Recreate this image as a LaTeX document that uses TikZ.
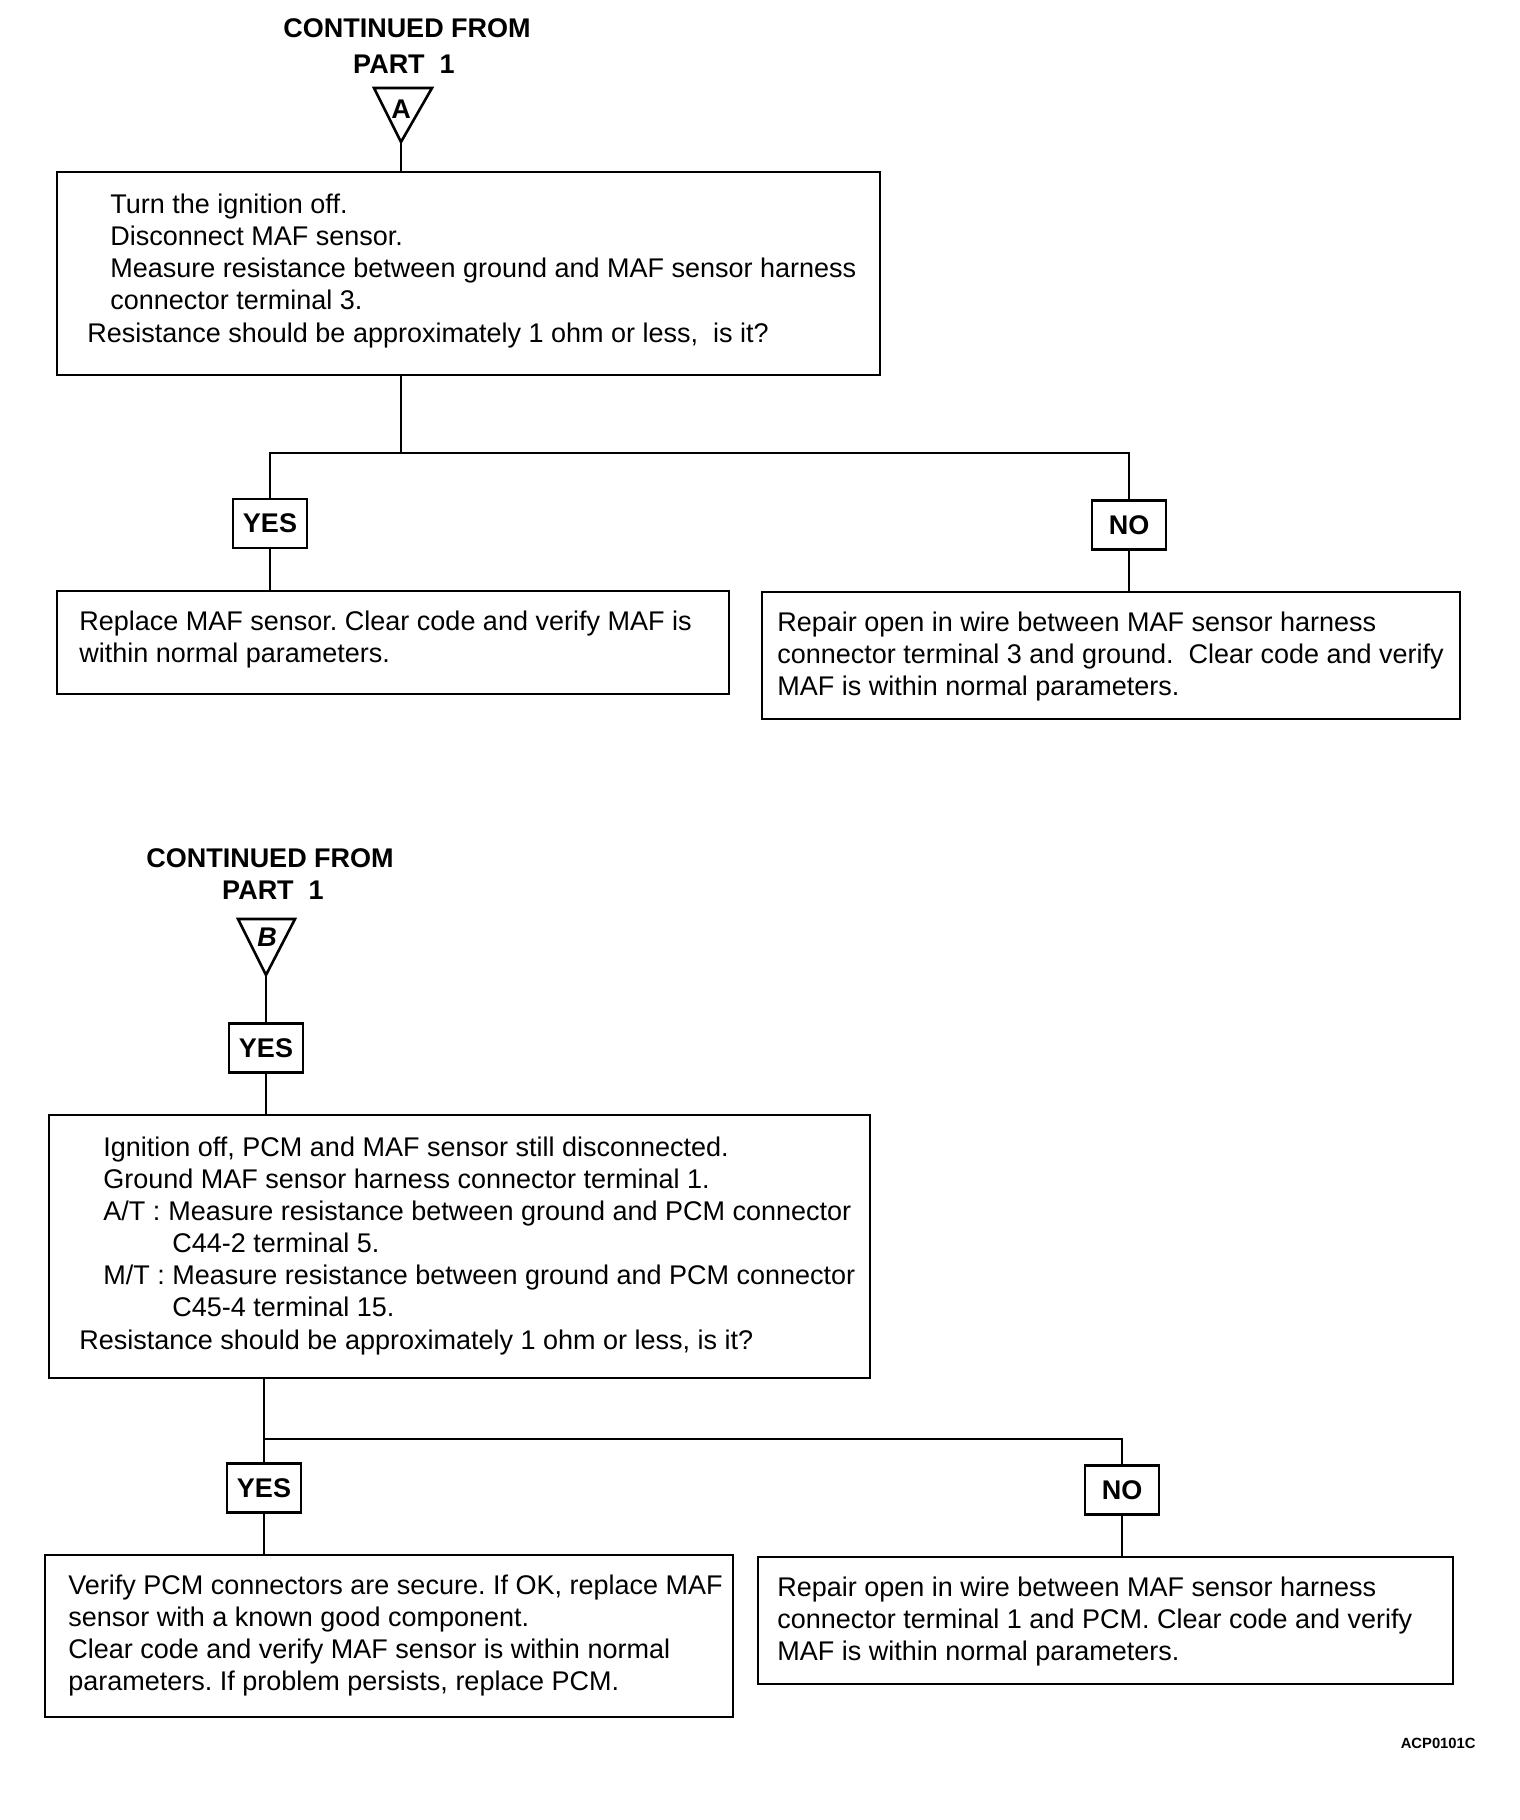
\documentclass[tikz,border=0pt]{standalone}
\usepackage{fontspec}
\setmainfont{Liberation Sans}
\frenchspacing
\begin{document}
\begin{tikzpicture}[x=0.5pt,y=-0.5pt,
  box/.style={draw, line width=1.3pt, rectangle, inner sep=0pt},
  lbl/.style={draw, line width=1.3pt, rectangle, inner sep=0pt, minimum width=37pt, minimum height=24.5pt, font=\bfseries\fontsize{13.5}{16}\selectfont},
  txt/.style={anchor=base west, inner sep=0pt, font=\fontsize{13.5}{16}\selectfont},
  ttl/.style={anchor=base, inner sep=0pt, font=\bfseries\fontsize{13.5}{16}\selectfont},
  conn/.style={line width=1pt},
  tri/.style={line width=1.3pt, line join=miter}]
\fill[white] (0,0) rectangle (1520,1820);
\path[use as bounding box] (0,0) rectangle (1520,1820);

% ---------- Part A ----------
\node[ttl] (tA1) at (407,38) {CONTINUED FROM};
\node[ttl] (tA2) at (404,73) {PART\ \ 1};
\coordinate (triA) at (401,142);
\draw[tri] (374,88) -- (432,88) -- (triA) -- cycle;
\node[inner sep=0pt, font=\bfseries\fontsize{13.5}{16}\selectfont] (lA) at (401,109) {A};

\node[box, minimum width=411.5pt, minimum height=101.5pt] (boxA) at (468.5,273.5) {};
\node[txt] (a1) at (110,213) {Turn the ignition off.};
\node[txt] (a2) at (110,245.5) {Disconnect MAF sensor.};
\node[txt] (a3) at (110,277.5) {Measure resistance between ground and MAF sensor harness};
\node[txt] (a4) at (110,309.5) {connector terminal 3.};
\node[txt] (a5) at (87,342) {Resistance should be approximately 1 ohm or less,\ \ is it?};

\draw[conn] (triA) -- (triA |- boxA.north);

\node[lbl] (yes1) at (270,523.5) {YES};
\node[lbl] (no1) at (1129,525) {NO};
\coordinate (j1) at (401,453);
\draw[conn] (j1 |- boxA.south) -- (j1);
\draw[conn] (yes1.north) |- (j1) -| (no1.north);

\node[box, minimum width=336pt, minimum height=51.5pt] (y1) at (393,642.5) {};
\node[box, minimum width=349pt, minimum height=63.5pt] (n1) at (1111,655.5) {};
\draw[conn] (yes1.south) -- (yes1.south |- y1.north);
\draw[conn] (no1.south) -- (no1.south |- n1.north);

\node[txt] (y1a) at (79,630) {Replace MAF sensor. Clear code and verify MAF is};
\node[txt] (y1b) at (79,662) {within normal parameters.};
\node[txt] (n1a) at (777,631) {Repair open in wire between MAF sensor harness};
\node[txt] (n1b) at (777,663) {connector terminal 3 and ground.\ \ Clear code and verify};
\node[txt] (n1c) at (777,695) {MAF is within normal parameters.};

% ---------- Part B ----------
\node[ttl] (tB1) at (270,867) {CONTINUED FROM};
\node[ttl] (tB2) at (273,899) {PART\ \ 1};
\coordinate (triB) at (266,975);
\draw[tri] (238,919) -- (295,919) -- (triB) -- cycle;
\node[inner sep=0pt, font=\bfseries\itshape\fontsize{13.5}{16}\selectfont] (lB) at (267,937) {B};

\node[lbl] (yes2) at (266,1048) {YES};
\draw[conn] (triB) -- (yes2.north);

\node[box, minimum width=410.5pt, minimum height=131.5pt] (boxB) at (459.5,1246.5) {};
\draw[conn] (yes2.south) -- (yes2.south |- boxB.north);
\node[txt] (b1) at (103,1156.5) {Ignition off, PCM and MAF sensor still disconnected.};
\node[txt] (b2) at (103,1188) {Ground MAF sensor harness connector terminal 1.};
\node[txt] (b3) at (103,1220) {A/T :};
\node[txt] (b3b) at (168,1220) {Measure resistance between ground and PCM connector};
\node[txt] (b4) at (172,1252) {C44-2 terminal 5.};
\node[txt] (b5) at (103,1284) {M/T :};
\node[txt] (b5b) at (172,1284) {Measure resistance between ground and PCM connector};
\node[txt] (b6) at (172,1316) {C45-4 terminal 15.};
\node[txt] (b7) at (79,1349) {Resistance should be approximately 1 ohm or less, is it?};

\node[lbl] (yes3) at (264,1488) {YES};
\node[lbl] (no3) at (1122,1490) {NO};
\coordinate (j2) at (264,1439);
\draw[conn] (j2 |- boxB.south) -- (j2) -| (no3.north);
\draw[conn] (j2) -- (yes3.north);

\node[box, minimum width=344pt, minimum height=81pt] (y3) at (389,1636) {};
\node[box, minimum width=347.5pt, minimum height=63.5pt] (n3) at (1105.5,1620.5) {};
\draw[conn] (yes3.south) -- (yes3.south |- y3.north);
\draw[conn] (no3.south) -- (no3.south |- n3.north);

\node[txt] (y3a) at (68,1594) {Verify PCM connectors are secure. If OK, replace MAF};
\node[txt] (y3b) at (68,1626) {sensor with a known good component.};
\node[txt] (y3c) at (68,1658) {Clear code and verify MAF sensor is within normal};
\node[txt] (y3d) at (68,1690) {parameters. If problem persists, replace PCM.};
\node[txt] (n3a) at (777,1596) {Repair open in wire between MAF sensor harness};
\node[txt] (n3b) at (777,1628) {connector terminal 1 and PCM. Clear code and verify};
\node[txt] (n3c) at (777,1660) {MAF is within normal parameters.};

\node[anchor=base east, inner sep=0pt, font=\bfseries\fontsize{7.4}{9}\selectfont] (code) at (1476,1748) {ACP0101C};
\end{tikzpicture}
\end{document}
